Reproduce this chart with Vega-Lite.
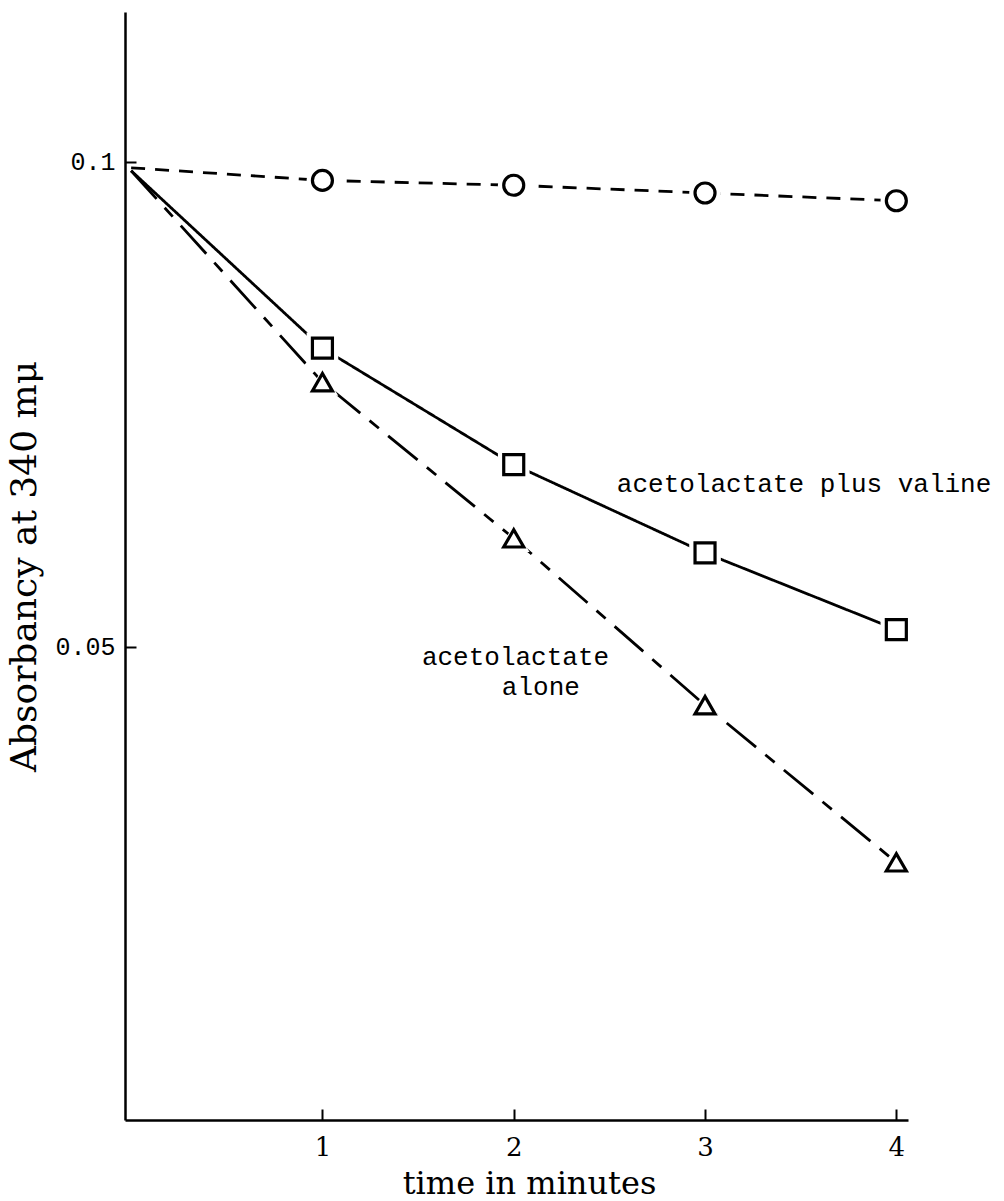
{
  "$schema": "https://vega.github.io/schema/vega-lite/v6.json",
  "width": 783,
  "height": 1108,
  "autosize": {"type": "none"},
  "padding": {"left": 125, "top": 12, "right": 96, "bottom": 81},
  "background": "white",
  "config": {
    "view": {"stroke": null},
    "axis": {"grid": false, "domainColor": "black", "tickColor": "black", "labelColor": "black", "titleColor": "black"}
  },
  "datasets": {
    "obs": [
      {"series": "control", "t": 0, "a": 0.0994},
      {"series": "control", "t": 1, "a": 0.0981},
      {"series": "control", "t": 2, "a": 0.0976},
      {"series": "control", "t": 3, "a": 0.0968},
      {"series": "control", "t": 4, "a": 0.0960},
      {"series": "acetolactate plus valine", "t": 0, "a": 0.0991},
      {"series": "acetolactate plus valine", "t": 1, "a": 0.0808},
      {"series": "acetolactate plus valine", "t": 2, "a": 0.0688},
      {"series": "acetolactate plus valine", "t": 3, "a": 0.0597},
      {"series": "acetolactate plus valine", "t": 4, "a": 0.0518},
      {"series": "acetolactate alone", "t": 0, "a": 0.0991},
      {"series": "acetolactate alone", "t": 1, "a": 0.0773},
      {"series": "acetolactate alone", "t": 2, "a": 0.0612},
      {"series": "acetolactate alone", "t": 3, "a": 0.0440},
      {"series": "acetolactate alone", "t": 4, "a": 0.0278}
    ],
    "notes": [
      {"label": "acetolactate plus valine", "t": 2.539, "a": 0.06598},
      {"label": "acetolactate", "t": 1.520, "a": 0.04814},
      {"label": "alone", "t": 1.938, "a": 0.04505}
    ]
  },
  "layer": [
    {
      "data": {"name": "obs"},
      "mark": {"type": "line", "strokeWidth": 2.8, "color": "black"},
      "encoding": {
        "x": {
          "field": "t", "type": "quantitative",
          "scale": {"domain": [-0.032, 4.061], "nice": false, "zero": false},
          "axis": {
            "values": [1, 2, 3, 4],
            "format": "d",
            "title": "time in minutes",
            "labelFont": "DejaVu Serif", "labelFontSize": 26,
            "titleFont": "DejaVu Serif", "titleFontSize": 32, "titleFontWeight": "normal",
            "domainWidth": 2.5, "tickWidth": 2, "tickSize": -11,
            "labelPadding": 25, "labelFlush": false,
            "titleX": 404, "titleY": 73, "titleBaseline": "alphabetic"
          }
        },
        "y": {
          "field": "a", "type": "quantitative",
          "scale": {"domain": [0.00124, 0.11546], "nice": false, "zero": false},
          "axis": {
            "values": [0.05, 0.1],
            "format": ".2~f",
            "title": "Absorbancy at 340 mμ",
            "labelFont": "Liberation Mono", "labelFontSize": 25,
            "titleFont": "DejaVu Serif", "titleFontSize": 36, "titleFontWeight": "normal",
            "domainWidth": 2.5, "tickWidth": 2, "tickSize": -11,
            "labelPadding": 21,
            "titleX": -90, "titleBaseline": "alphabetic"
          }
        },
        "detail": {"field": "series"},
        "strokeDash": {
          "field": "series", "type": "nominal",
          "scale": {"domain": ["control", "acetolactate plus valine", "acetolactate alone"], "range": [[14, 10], [1, 0], [38, 12, 12, 12]]},
          "legend": null
        }
      }
    },
    {
      "data": {"name": "obs"},
      "transform": [{"filter": "datum.t > 0"}],
      "mark": {"type": "point", "filled": true, "color": "white", "opacity": 1, "size": 1000},
      "encoding": {
        "x": {"field": "t", "type": "quantitative"},
        "y": {"field": "a", "type": "quantitative"},
        "shape": {
          "field": "series", "type": "nominal",
          "scale": {"domain": ["control", "acetolactate plus valine", "acetolactate alone"], "range": ["circle", "square", "triangle-up"]},
          "legend": null
        }
      }
    },
    {
      "data": {"name": "obs"},
      "transform": [{"filter": "datum.t > 0"}],
      "mark": {"type": "point", "fill": "white", "stroke": "black", "strokeWidth": 3.2, "opacity": 1, "size": 400},
      "encoding": {
        "x": {"field": "t", "type": "quantitative"},
        "y": {"field": "a", "type": "quantitative"},
        "shape": {
          "field": "series", "type": "nominal",
          "scale": {"domain": ["control", "acetolactate plus valine", "acetolactate alone"], "range": ["circle", "square", "triangle-up"]},
          "legend": null
        }
      }
    },
    {
      "data": {"name": "notes"},
      "mark": {"type": "text", "font": "Liberation Mono", "fontSize": 26, "align": "left", "baseline": "alphabetic", "color": "black"},
      "encoding": {
        "x": {"field": "t", "type": "quantitative"},
        "y": {"field": "a", "type": "quantitative"},
        "text": {"field": "label"}
      }
    }
  ]
}
